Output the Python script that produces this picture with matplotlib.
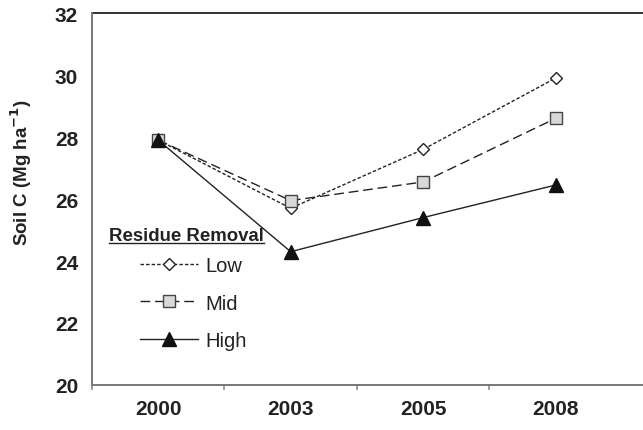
import matplotlib.pyplot as plt
from matplotlib.lines import Line2D

years = ["2000", "2003", "2005", "2008"]
low = [27.9, 25.7, 27.6, 29.9]
mid = [27.9, 25.95, 26.55, 28.6]
high = [27.9, 24.3, 25.4, 26.45]
yticks = [20, 22, 24, 26, 28, 30, 32]

plt.rcParams['font.family'] = ['Liberation Sans', 'DejaVu Sans']

fig = plt.figure(figsize=(6.43, 4.31), dpi=100)
ax = fig.add_axes([92 / 643, 45 / 431, 551 / 643, 372 / 431])

x = list(range(len(years)))
ink = "#222222"
ax.plot(x, low, color=ink, lw=1.0, ls=(0, (2.5, 1.5)), marker="D", ms=6.5,
        mfc="white", mec=ink, mew=1.0, label="Low")
ax.plot(x, mid, color=ink, lw=1.0, ls=(0, (7, 3.5)), marker="s", ms=9,
        mfc="#d8d8d8", mec="#444444", mew=1.0, label="Mid")
ax.plot(x, high, color=ink, lw=1.0, ls="-", marker="^", ms=10,
        mfc="#111111", mec="#111111", label="High")

ax.set_ylim(20, 32)
ax.set_xlim(-0.5, 3.66)
ax.set_yticks(yticks)
ax.set_yticklabels([str(v) for v in yticks], fontsize=15, fontweight="bold", color=ink)
ax.tick_params(axis="y", length=0, pad=10)

ax.set_xticks(x)
ax.set_xticklabels(years, fontsize=15, fontweight="bold", color=ink)
ax.tick_params(axis="x", length=0, pad=10)
for b in [-0.5, 0.5, 1.5, 2.5]:
    ax.plot([b, b], [20, 19.88], color="#888888", lw=1.2, clip_on=False)

for s in ["top", "right"]:
    ax.spines[s].set_visible(False)
for s in ["left", "bottom"]:
    ax.spines[s].set_color("#777777")
    ax.spines[s].set_linewidth(1.4)
ax.axhline(32, color="#333333", lw=1.4, clip_on=False)

ax.set_ylabel("Soil C (Mg ha$^{\\mathbf{-1}}$)", fontsize=13.5, fontweight="bold",
              color=ink)
ax.yaxis.set_label_coords(-0.105, 0.573)

# legend title with underline
title = ax.text((109 - 92) / 551, (386 - 241) / 372, "Residue Removal",
                transform=ax.transAxes, fontsize=13.4, fontweight="bold",
                color=ink, ha="left", va="baseline")

leg = ax.legend(loc="center left", bbox_to_anchor=((140 - 92) / 551, (386 - 304) / 372),
                frameon=False, fontsize=14.5,
                handlelength=2.9, handletextpad=0.35, labelspacing=0.9,
                borderpad=0, borderaxespad=0)
for t in leg.get_texts():
    t.set_color(ink)

fig.canvas.draw()
bb = title.get_window_extent().transformed(fig.transFigure.inverted())
uy = (431 - 244) / 431
fig.add_artist(Line2D([bb.x0, bb.x1], [uy, uy],
                      transform=fig.transFigure, color=ink, lw=1.0))

fig.savefig("out.png", dpi=100)
